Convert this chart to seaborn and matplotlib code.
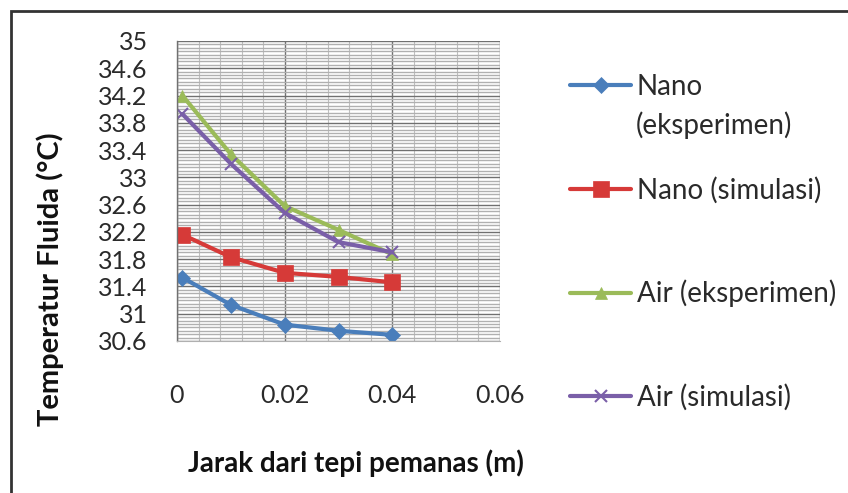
import numpy as np
import pandas as pd
import matplotlib
matplotlib.use("Agg")
import matplotlib.pyplot as plt
import seaborn as sns
from matplotlib.ticker import MultipleLocator, FixedLocator
from matplotlib.patches import Rectangle

# ---- data ----
x_pos = [0.001, 0.01, 0.02, 0.03, 0.04]
nano_eksperimen = [31.53, 31.13, 30.84, 30.75, 30.69]
nano_simulasi = [32.16, 31.83, 31.60, 31.54, 31.46]
air_eksperimen = [34.20, 33.34, 32.58, 32.23, 31.87]
air_simulasi = [33.93, 33.20, 32.48, 32.05, 31.90]

series_names = ["Nano (eksperimen)", "Nano (simulasi)", "Air (eksperimen)", "Air (simulasi)"]
series_values = [nano_eksperimen, nano_simulasi, air_eksperimen, air_simulasi]
colors = ["#4A7EBB", "#D63A38", "#9BBB59", "#7A5FA8"]
markers = ["D", "s", "^", "x"]
msizes = [8, 12, 9, 9]

y_ticks = [30.6, 31, 31.4, 31.8, 32.2, 32.6, 33, 33.4, 33.8, 34.2, 34.6, 35]
y_tick_labels = ["30.6", "31", "31.4", "31.8", "32.2", "32.6", "33", "33.4", "33.8", "34.2", "34.6", "35"]
x_ticks = [0, 0.02, 0.04, 0.06]
x_tick_labels = ["0", "0.02", "0.04", "0.06"]

df = pd.DataFrame({
    "x": np.tile(x_pos, len(series_names)),
    "y": np.concatenate(series_values),
    "series": np.repeat(series_names, len(x_pos)),
})

sns.set_style("white")
plt.rcParams["font.family"] = ["Lato", "DejaVu Sans"]

fig = plt.figure(figsize=(8.48, 4.93), dpi=100)
ax = fig.add_axes([177 / 848, 1 - 341 / 493, (500 - 177) / 848, (341 - 41) / 493])

# grid
ax.set_axisbelow(True)
ax.yaxis.set_minor_locator(MultipleLocator(0.05))
ax.xaxis.set_minor_locator(MultipleLocator(0.004))
ax.grid(which="minor", axis="y", color="#B0B0B0", linewidth=1.0)
ax.grid(which="minor", axis="x", color="#C0C0C0", linewidth=0.8)
ax.grid(which="major", axis="both", color="#707070", linewidth=1.0)

for name, col, mk, ms in zip(series_names, colors, markers, msizes):
    sub = df[df["series"] == name]
    sns.lineplot(data=sub, x="x", y="y", ax=ax, color=col, linewidth=3.0,
                 marker=mk, markersize=ms, markeredgecolor=col,
                 markeredgewidth=1.5 if mk == "x" else 0.5, label=name, legend=False)

ax.set_xlim(0, 0.06)
ax.set_ylim(30.6, 35)
ax.yaxis.set_major_locator(FixedLocator(y_ticks))
ax.set_yticklabels(y_tick_labels)
ax.xaxis.set_major_locator(FixedLocator(x_ticks))
ax.set_xticklabels(x_tick_labels)
ax.set_xlabel("")
ax.set_ylabel("")

for s in ["top", "right"]:
    ax.spines[s].set_visible(False)
ax.spines["left"].set_color("#707070")
ax.spines["bottom"].set_color("#B0B0B0")
ax.spines["left"].set_linewidth(1.0)

ax.tick_params(axis="y", which="major", direction="out", length=7, width=1,
               color="#707070", pad=14, labelsize=18, labelcolor="#2A2A2A")
ax.tick_params(axis="x", which="major", direction="out", length=7, width=1,
               color="#707070", pad=24, labelsize=18, labelcolor="#2A2A2A")
ax.tick_params(which="minor", length=0)

fig.text(356 / 848, 1 - 463 / 493, "Jarak dari tepi pemanas (m)", ha="center", va="center",
         fontsize=20, fontweight="bold", color="#111111")
fig.text(50 / 848, 1 - 279 / 493, "Temperatur Fluida (°C)", ha="center", va="center",
         rotation=90, fontsize=21, fontweight="bold", color="#111111")

# legend
h, l = ax.get_legend_handles_labels()
labels_leg = ["Nano", "Nano (simulasi)", "Air (eksperimen)", "Air (simulasi)"]
leg = fig.legend(h, labels_leg, loc="upper left", bbox_to_anchor=(570 / 848, 1 - 74 / 493),
                 frameon=False, fontsize=20, labelspacing=2.75, handlelength=2.2,
                 handletextpad=0.2, borderpad=0, borderaxespad=0)
for t in leg.get_texts():
    t.set_color("#2A2A2A")
fig.text(636 / 848, 1 - 125 / 493, "(eksperimen)", ha="left", va="center",
         fontsize=20, color="#2A2A2A")

# outer chart border (top and left visible)
fig.patches.append(Rectangle((11 / 848, -0.05), 1.2, 1 - 11 / 493 + 0.05,
                             transform=fig.transFigure, fill=False,
                             edgecolor="#333333", linewidth=2.0))

fig.savefig("out.png", dpi=100)
